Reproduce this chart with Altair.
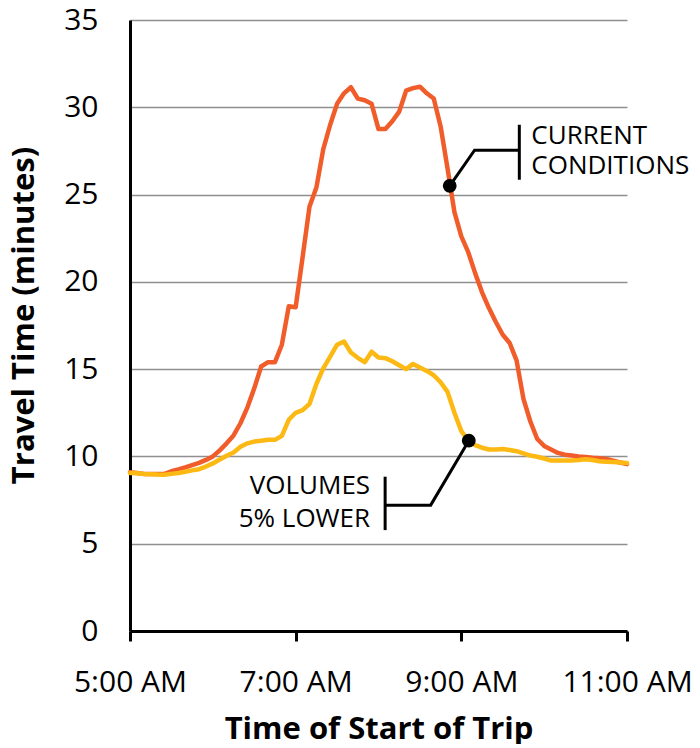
import altair as alt
import pandas as pd

# minutes after 5:00 AM (5-minute intervals)
minutes = [0, 5, 10, 15, 20, 25, 30, 35, 40, 45, 50, 55, 60, 65, 70, 75, 80, 85, 90, 95,
           100, 105, 110, 115, 120, 125, 130, 135, 140, 145, 150, 155, 160, 165, 170, 175,
           180, 185, 190, 195, 200, 205, 210, 215, 220, 225, 230, 235, 240, 245, 250, 255,
           260, 265, 270, 275, 280, 285, 290, 295, 300, 305, 310, 315, 320, 325, 330, 335,
           340, 345, 350, 355, 360]

current_conditions = [9.1, 9.05, 9.0, 9.0, 9.0, 9.0, 9.15, 9.25, 9.37, 9.5, 9.63, 9.8, 10.0,
                      10.35, 10.75, 11.2, 11.9, 12.8, 13.9, 15.15, 15.4, 15.4, 16.4, 18.6,
                      18.55, 21.4, 24.3, 25.4, 27.6, 29.0, 30.2, 30.8, 31.15, 30.5, 30.4, 30.2,
                      28.75, 28.75, 29.2, 29.75, 30.95, 31.1, 31.18, 30.8, 30.5, 28.9, 26.5,
                      24.0, 22.6, 21.7, 20.5, 19.4, 18.5, 17.7, 16.97, 16.5, 15.5, 13.3, 12.0,
                      11.0, 10.6, 10.4, 10.2, 10.1, 10.05, 10.0, 9.97, 9.93, 9.9, 9.85, 9.75,
                      9.65, 9.56]

volumes_5pct_lower = [9.05, 9.03, 9.0, 8.98, 8.96, 8.95, 9.0, 9.05, 9.12, 9.2, 9.27, 9.42, 9.6,
                      9.82, 10.04, 10.23, 10.55, 10.75, 10.85, 10.9, 10.95, 10.95, 11.18, 12.1,
                      12.5, 12.65, 13.0, 14.15, 15.05, 15.72, 16.4, 16.58, 15.95, 15.65, 15.4,
                      16.0, 15.67, 15.63, 15.45, 15.22, 15.0, 15.3, 15.1, 14.9, 14.65, 14.25,
                      13.7, 12.5, 11.45, 10.9, 10.65, 10.5, 10.4, 10.4, 10.42, 10.37, 10.3,
                      10.18, 10.05, 9.98, 9.88, 9.76, 9.76, 9.77, 9.77, 9.8, 9.84, 9.8, 9.72,
                      9.7, 9.68, 9.65, 9.62]

x_ticks = [5, 7, 9, 11]
y_ticks = [0, 5, 10, 15, 20, 25, 30, 35]

# annotation anchors (hours, minutes of travel time)
cur_dot = (8.86, 25.5)
cur_elbow = (9.16, 27.54)
cur_bar_x = 9.70
cur_bar = (25.85, 29.0)
cur_text = [("CURRENT", 28.34), ("CONDITIONS", 26.62)]

vol_dot = (9.09, 10.9)
vol_elbow = (8.63, 7.21)
vol_bar_x = 8.08
vol_bar = (5.78, 8.84)
vol_text = [("VOLUMES", 8.31), ("5% LOWER", 6.41)]

FONT = "Open Sans"
ORANGE = "#F15D2A"
YELLOW = "#FDB913"

hours = [5 + m / 60 for m in minutes]
df_cur = pd.DataFrame({"hour": hours, "value": current_conditions})
df_vol = pd.DataFrame({"hour": hours, "value": volumes_5pct_lower})

x_enc = alt.X(
    "hour:Q",
    scale=alt.Scale(domain=[5, 11], nice=False, zero=False),
    axis=alt.Axis(
        values=x_ticks,
        labelExpr="datum.value + ':00 AM'",
        title="Time of Start of Trip",
        grid=False,
        domainColor="black",
        domainWidth=3,
        tickColor="black",
        tickWidth=3,
        tickSize=10,
        labelFont=FONT,
        labelFontSize=30,
        labelColor="black",
        labelPadding=26,
        labelFlush=False,
        labelOverlap=False,
        titleFont=FONT,
        titleFontSize=31,
        titleFontWeight="bold",
        titleColor="black",
        titleBaseline="alphabetic",
        titleY=107,
    ),
)

y_enc = alt.Y(
    "value:Q",
    scale=alt.Scale(domain=[0, 35], nice=False, zero=True),
    axis=alt.Axis(
        values=y_ticks,
        title="Travel Time (minutes)",
        grid=True,
        gridColor="#8f8f8f",
        gridWidth=1.6,
        ticks=False,
        domainColor="black",
        domainWidth=3,
        labelFont=FONT,
        labelFontSize=30,
        labelColor="black",
        labelPadding=32,
        labelFlush=False,
        titleFont=FONT,
        titleFontSize=31,
        titleFontWeight="bold",
        titleColor="black",
        titleAngle=270,
        titleAlign="center",
        titleBaseline="alphabetic",
        titleX=-97,
        titleY=295,
    ),
)

line_cur = alt.Chart(df_cur).mark_line(
    color=ORANGE, strokeWidth=4.5, strokeJoin="round", strokeCap="round"
).encode(x=x_enc, y=y_enc)

line_vol = alt.Chart(df_vol).mark_line(
    color=YELLOW, strokeWidth=4.5, strokeJoin="round", strokeCap="round"
).encode(x=x_enc, y=y_enc)

leaders = pd.DataFrame({
    "hour": [cur_dot[0], cur_elbow[0], cur_bar_x, vol_dot[0], vol_elbow[0], vol_bar_x],
    "value": [cur_dot[1], cur_elbow[1], cur_elbow[1], vol_dot[1], vol_elbow[1], vol_elbow[1]],
    "k": [0, 1, 2, 0, 1, 2],
    "grp": ["c", "c", "c", "v", "v", "v"],
})
leader_lines = alt.Chart(leaders).mark_line(color="black", strokeWidth=3).encode(
    x=x_enc, y=y_enc, order="k:Q", detail="grp:N"
)

bars = pd.DataFrame({
    "hour": [cur_bar_x, vol_bar_x],
    "value": [cur_bar[0], vol_bar[0]],
    "value2": [cur_bar[1], vol_bar[1]],
})
bar_rules = alt.Chart(bars).mark_rule(color="black", strokeWidth=3).encode(
    x=x_enc, y=y_enc, y2="value2:Q"
)

dots = pd.DataFrame({"hour": [cur_dot[0], vol_dot[0]], "value": [cur_dot[1], vol_dot[1]]})
dot_marks = alt.Chart(dots).mark_circle(size=190, color="black", opacity=1).encode(
    x=x_enc, y=y_enc
)

cur_df = pd.DataFrame({
    "hour": [cur_bar_x] * len(cur_text),
    "value": [t[1] for t in cur_text],
    "label": [t[0] for t in cur_text],
})
cur_labels = alt.Chart(cur_df).mark_text(
    align="left", baseline="middle", dx=12, font=FONT, fontSize=26, color="black"
).encode(x=x_enc, y=y_enc, text="label:N")

vol_df = pd.DataFrame({
    "hour": [vol_bar_x] * len(vol_text),
    "value": [t[1] for t in vol_text],
    "label": [t[0] for t in vol_text],
})
vol_labels = alt.Chart(vol_df).mark_text(
    align="right", baseline="middle", dx=-15, font=FONT, fontSize=26, color="black"
).encode(x=x_enc, y=y_enc, text="label:N")

chart = alt.layer(
    line_cur, line_vol, leader_lines, bar_rules, dot_marks, cur_labels, vol_labels
).properties(
    width=497,
    height=611,
    autosize=alt.AutoSizeParams(type="none"),
    padding={"left": 122, "top": 12, "right": 65, "bottom": 113},
    background="white",
).configure_view(stroke=None)

chart.save("out.html", embed_options={"renderer": "svg", "actions": False})
